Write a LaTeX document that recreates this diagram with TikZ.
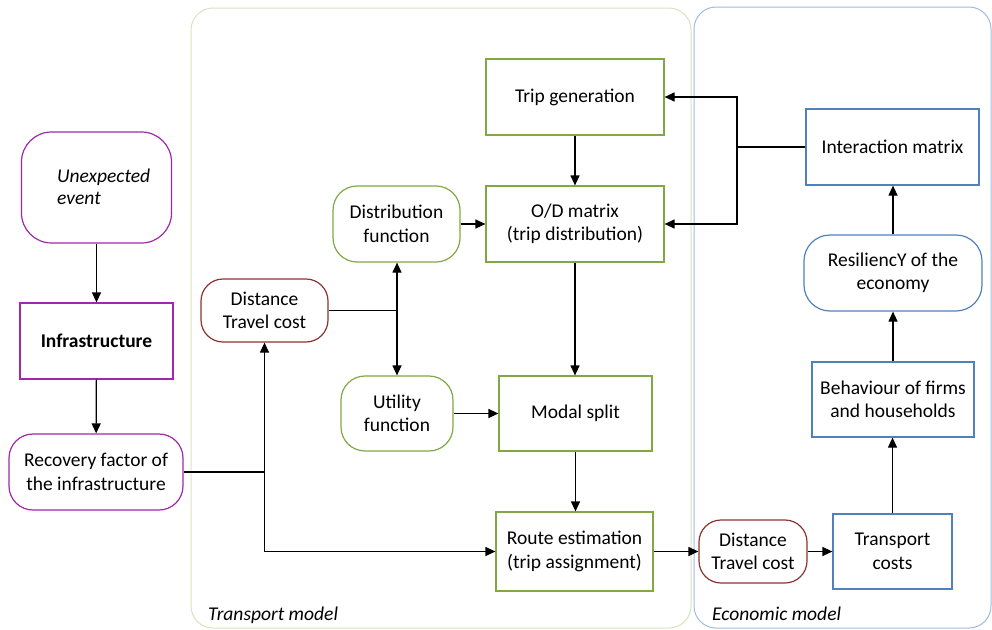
\documentclass[tikz,border=0pt]{standalone}
\usepackage{fontspec}
\setmainfont{Carlito}
\usetikzlibrary{arrows.meta}
\definecolor{cpurple}{RGB}{160,40,170}
\definecolor{cgreen}{RGB}{128,168,68}
\definecolor{cred}{RGB}{140,50,48}
\definecolor{cblue}{RGB}{79,129,189}
\definecolor{clgreen}{RGB}{215,228,189}
\definecolor{clblue}{RGB}{160,188,222}
\begin{document}
\begin{tikzpicture}[x=1pt,y=-1pt,
  every node/.style={font=\fontsize{19.5}{23.5}\selectfont, align=center, inner sep=0pt},
  base/.style={draw, line width=1.2pt, anchor=center},
  pbox/.style={base, draw=cpurple},
  gbox/.style={base, draw=cgreen},
  bbox/.style={base, draw=cblue},
  rbox/.style={base, draw=cred},
  rnd/.style={rounded corners=24pt},
  arr/.style={line width=1.2pt, -{Triangle[length=10pt,width=9pt]}},
  ln/.style={line width=1.2pt},
  cont/.style={line width=1pt, rounded corners=22pt}
]
\useasboundingbox (0,0) rectangle (992,629);
% containers
\draw[cont, draw=clgreen] (191,8) rectangle (691,628);
\draw[cont, draw=clblue] (694,7) rectangle (991,628);
\node[anchor=base west, font=\fontsize{19.5}{23.5}\selectfont\itshape] (tl) at (208,620) {Transport model};
\node[anchor=base west, font=\fontsize{19.5}{23.5}\selectfont\itshape] (el) at (712,620) {Economic model};

% left column
\node[pbox, rnd, rounded corners=30pt, minimum width=150pt, minimum height=111pt] (ue) at (96.5,187.5) {};
\node[anchor=west, align=left, font=\fontsize{19.5}{22}\selectfont\itshape] (uet) at (57,187) {Unexpected\\ event};
\node[pbox, minimum width=153pt, minimum height=76pt, font=\fontsize{19.5}{23.5}\selectfont\bfseries] (inf) at (96.5,341) {Infrastructure};
\node[pbox, rnd, minimum width=174pt, minimum height=76pt] (rf) at (96,472) {Recovery factor of\\ the infrastructure};

% transport model
\node[rbox, rnd, rounded corners=22pt, minimum width=127pt, minimum height=63pt] (dt1) at (264.5,310.5) {Distance\\ Travel cost};
\node[gbox, rnd, minimum width=127pt, minimum height=76pt] (df) at (396.5,224) {Distribution\\ function};
\node[gbox, rnd, minimum width=112pt, minimum height=75pt] (uf) at (397,413.5) {Utility\\ function};
\node[gbox, minimum width=178pt, minimum height=76pt] (tg) at (575,97) {Trip generation};
\node[gbox, minimum width=178pt, minimum height=76pt] (od) at (575,224) {O/D matrix\\ (trip distribution)};
\node[gbox, minimum width=153pt, minimum height=75pt] (ms) at (575.5,413.5) {Modal split};
\node[gbox, minimum width=157pt, minimum height=79pt] (re) at (574.5,551.5) {Route estimation\\ (trip assignment)};

% economic model
\node[rbox, rnd, rounded corners=22pt, minimum width=108pt, minimum height=63pt] (dt2) at (753,551.5) {Distance\\ Travel cost};
\node[bbox, minimum width=119pt, minimum height=75pt] (tc) at (892.5,551.5) {Transport\\ costs};
\node[bbox, minimum width=162pt, minimum height=75pt] (bh) at (893,399.5) {Behaviour of firms\\ and households};
\node[bbox, rnd, rounded corners=26pt, minimum width=178pt, minimum height=76pt] (rs) at (893,273) {ResiliencY of the\\ economy};
\node[bbox, minimum width=173pt, minimum height=76pt] (im) at (892.5,147) {Interaction matrix};

% connectors
\draw[arr] (ue) -- (inf);
\draw[arr] (inf) -- (rf);
\coordinate (j1) at (264.5,472);
\draw[ln] (rf.east) -- (j1);
\draw[arr] (j1) -- (dt1.south);
\draw[arr] (j1) |- (re.west);
\coordinate (j2) at (397,310.5);
\draw[ln] (dt1.east) -- (j2);
\draw[arr] (j2) -- (j2 |- df.south);
\draw[arr] (j2) -- (j2 |- uf.north);
\draw[arr] (df) -- (od);
\draw[arr] (tg) -- (od);
\draw[arr] (od) -- (od.south |- ms.north);
\draw[arr] (uf) -- (ms);
\draw[arr] (ms.south) -- (ms.south |- re.north);
\draw[arr] (re) -- (dt2);
\draw[arr] (dt2) -- (tc);
\draw[arr] (tc) -- (tc.north |- bh.south);
\draw[arr] (bh) -- (rs);
\draw[arr] (rs.north) -- (rs.north |- im.south);
\coordinate (j3) at (737,147);
\draw[ln] (im.west) -- (j3);
\draw[arr] (j3) |- (tg.east);
\draw[arr] (j3) |- (od.east);
\end{tikzpicture}
\end{document}
